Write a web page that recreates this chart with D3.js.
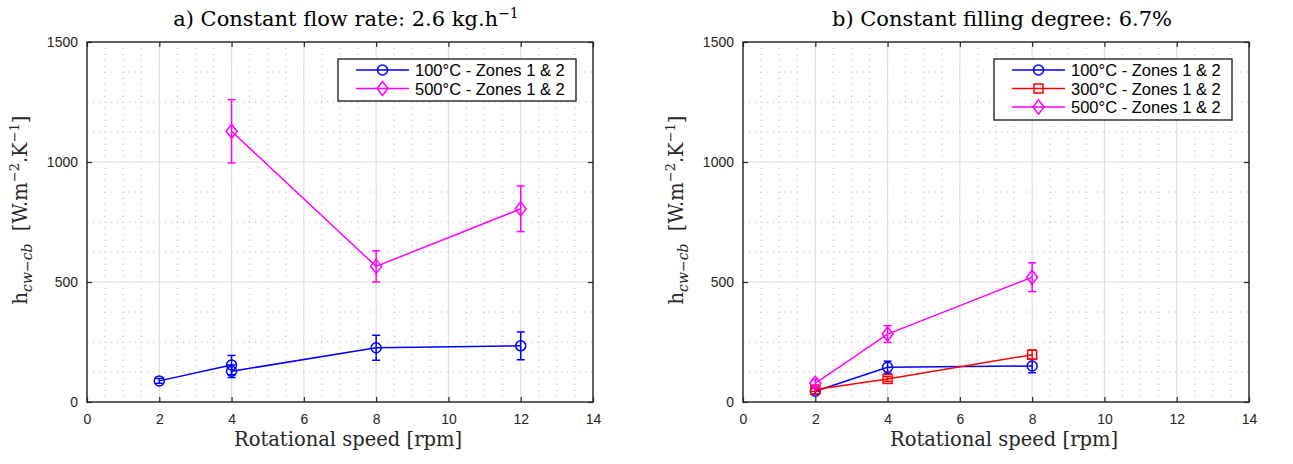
<!DOCTYPE html>
<html>
<head>
<meta charset="utf-8">
<script src="https://cdn.jsdelivr.net/npm/d3@7"></script>
<style>
  body { margin: 0; background: #fff; }
  svg { display: block; }
</style>
</head>
<body>
<script>
// panel a) constant flow rate
var speedA100 = [2, 4, 4, 8, 12];
var hA100 = [88, 154, 128, 226, 234];
var errA100 = [10, 40, 26, 52, 58];
var speedA500 = [4, 8, 12];
var hA500 = [1128, 565, 805];
var errA500 = [132, 65, 95];

// panel b) constant filling degree
var speedB = [2, 4, 8];
var hB100 = [45, 145, 150];
var errB100 = [12, 25, 28];
var hB300 = [52, 96, 197];
var errB300 = [8, 10, 20];
var hB500 = [78, 283, 520];
var errB500 = [15, 35, 60];

var xTicks = [0, 2, 4, 6, 8, 10, 12, 14];
var yTicks = [0, 500, 1000, 1500];

var BLUE = "#0000ff", RED = "#ff0000", MAGENTA = "#ff00ff";
var SERIF = "'DejaVu Serif', 'Liberation Serif', serif";
var SANS = "'Liberation Sans', Arial, sans-serif";

var svg = d3.select("body").append("svg")
    .attr("width", 1293)
    .attr("height", 464)
    .style("background-color", "#fff");

function zip(xs, ys, es) {
    return xs.map(function(x, i) { return {x: x, y: ys[i], e: es[i]}; });
}

function drawPanel(left, title, titleSup, series) {
    var top = 42, W = 506, H = 360;
    var x = d3.scaleLinear().domain([0, 14]).range([0, W]);
    var y = d3.scaleLinear().domain([0, 1500]).range([H, 0]);
    var g = svg.append("g").attr("transform", "translate(" + left + "," + top + ")");

    // minor dotted grid
    var minorX = d3.range(0, 14.01, 0.5).filter(function(v) { return v % 2 != 0; });
    var minorY = d3.range(0, 1500.1, 125).filter(function(v) { return v % 500 != 0; });
    g.selectAll(".mx").data(minorX).enter().append("line")
        .attr("x1", x).attr("x2", x).attr("y1", 0).attr("y2", H)
        .attr("stroke", "#b8b8b8").attr("stroke-width", 1).attr("stroke-dasharray", "1,5");
    g.selectAll(".my").data(minorY).enter().append("line")
        .attr("y1", y).attr("y2", y).attr("x1", 0).attr("x2", W)
        .attr("stroke", "#b8b8b8").attr("stroke-width", 1).attr("stroke-dasharray", "1,5");

    // major grid
    g.selectAll(".gx").data(xTicks).enter().append("line")
        .attr("x1", x).attr("x2", x).attr("y1", 0).attr("y2", H)
        .attr("stroke", "#dedede").attr("stroke-width", 1.2);
    g.selectAll(".gy").data(yTicks).enter().append("line")
        .attr("y1", y).attr("y2", y).attr("x1", 0).attr("x2", W)
        .attr("stroke", "#dedede").attr("stroke-width", 1.2);

    // axes
    g.append("g").attr("transform", "translate(0," + H + ")")
        .call(d3.axisBottom(x).tickValues(xTicks).tickSizeInner(-5).tickSizeOuter(0).tickPadding(12));
    g.append("g")
        .call(d3.axisLeft(y).tickValues(yTicks).tickFormat(d3.format("d")).tickSizeInner(-5).tickSizeOuter(0).tickPadding(9));
    g.append("g").call(d3.axisTop(x).tickValues(xTicks).tickSizeInner(-5).tickSizeOuter(0).tickFormat(""));
    g.append("g").attr("transform", "translate(" + W + ",0)")
        .call(d3.axisRight(y).tickValues(yTicks).tickSizeInner(-5).tickSizeOuter(0).tickFormat(""));
    g.selectAll(".domain").attr("stroke", "none");
    g.selectAll(".tick line").attr("stroke", "#262626").attr("stroke-width", 1.2);
    g.selectAll(".tick text").attr("font-family", SANS).attr("font-size", 14).attr("fill", "#262626");
    g.append("rect").attr("width", W).attr("height", H)
        .attr("fill", "none").attr("stroke", "#262626").attr("stroke-width", 1.4);

    // series
    series.forEach(function(s) {
        var pts = s.data;
        g.append("path").datum(pts)
            .attr("fill", "none").attr("stroke", s.color).attr("stroke-width", 1.5)
            .attr("d", d3.line().x(function(d) { return x(d.x); }).y(function(d) { return y(d.y); }));
        var eb = g.append("g").attr("stroke", s.color).attr("stroke-width", 1.5).attr("fill", "none");
        pts.forEach(function(d) {
            var cx = x(d.x), t = y(d.y + d.e), b = y(d.y - d.e);
            eb.append("line").attr("x1", cx).attr("x2", cx).attr("y1", t).attr("y2", b);
            eb.append("line").attr("x1", cx - 4).attr("x2", cx + 4).attr("y1", t).attr("y2", t);
            eb.append("line").attr("x1", cx - 4).attr("x2", cx + 4).attr("y1", b).attr("y2", b);
            drawMarker(eb, s.marker, cx, y(d.y));
        });
    });

    // legend
    var lg = g.append("g").attr("transform", "translate(" + (W - 255) + ",17)");
    var lh = 19 * series.length + 4;
    lg.append("rect").attr("width", 238).attr("height", lh)
        .attr("fill", "#fff").attr("stroke", "#262626").attr("stroke-width", 1.4);
    series.forEach(function(s, i) {
        var yy = 11 + i * 18.5;
        var row = lg.append("g").attr("stroke", s.color).attr("stroke-width", 1.5).attr("fill", "none");
        row.append("line").attr("x1", 18).attr("x2", 71).attr("y1", yy).attr("y2", yy);
        drawMarker(row, s.marker, 44.5, yy);
        lg.append("text").attr("x", 77).attr("y", yy + 6)
            .attr("font-family", SANS).attr("font-size", 16.5).attr("fill", "#000")
            .text(s.label);
    });

    // title
    var tt = g.append("text").attr("x", W / 2 + 6).attr("y", -16)
        .attr("text-anchor", "middle").attr("font-family", SERIF).attr("font-size", 21).attr("fill", "#000");
    tt.append("tspan").text(title);
    tt.append("tspan").attr("font-size", 14).attr("dy", -8).text(titleSup);

    // x label
    g.append("text").attr("x", W / 2 + 8).attr("y", H + 44)
        .attr("text-anchor", "middle").attr("font-family", SERIF).attr("font-size", 19.5).attr("fill", "#262626")
        .text("Rotational speed [rpm]");

    // y label
    var yl = g.append("text").attr("transform", "translate(-60," + (H / 2 - 12) + ") rotate(-90)")
        .attr("text-anchor", "middle").attr("font-family", SERIF).attr("font-size", 19.5).attr("fill", "#262626");
    yl.append("tspan").text("h");
    yl.append("tspan").attr("font-size", 14).attr("font-style", "italic").attr("dy", 5).text("cw\u2212cb");
    yl.append("tspan").attr("dy", -5).text("\u00a0\u00a0[W.m");
    yl.append("tspan").attr("font-size", 13).attr("dy", -8).text("\u22122");
    yl.append("tspan").attr("dy", 8).text(".K");
    yl.append("tspan").attr("font-size", 13).attr("dy", -8).text("\u22121");
    yl.append("tspan").attr("dy", 8).text("]");
}

function drawMarker(sel, type, cx, cy) {
    if (type == "o") {
        sel.append("circle").attr("cx", cx).attr("cy", cy).attr("r", 5);
    } else if (type == "s") {
        sel.append("rect").attr("x", cx - 4.5).attr("y", cy - 4.5).attr("width", 9).attr("height", 9);
    } else {
        sel.append("path").attr("d", "M" + cx + "," + (cy - 7) + "L" + (cx + 5.5) + "," + cy +
            "L" + cx + "," + (cy + 7) + "L" + (cx - 5.5) + "," + cy + "Z");
    }
}

drawPanel(87, "a) Constant flow rate: 2.6 kg.h", "\u22121", [
    {label: "100\u00b0C - Zones 1 & 2", color: BLUE, marker: "o", data: zip(speedA100, hA100, errA100)},
    {label: "500\u00b0C - Zones 1 & 2", color: MAGENTA, marker: "d", data: zip(speedA500, hA500, errA500)}
]);

drawPanel(743, "b) Constant filling degree: 6.7%", "", [
    {label: "100\u00b0C - Zones 1 & 2", color: BLUE, marker: "o", data: zip(speedB, hB100, errB100)},
    {label: "300\u00b0C - Zones 1 & 2", color: RED, marker: "s", data: zip(speedB, hB300, errB300)},
    {label: "500\u00b0C - Zones 1 & 2", color: MAGENTA, marker: "d", data: zip(speedB, hB500, errB500)}
]);
</script>
</body>
</html>
